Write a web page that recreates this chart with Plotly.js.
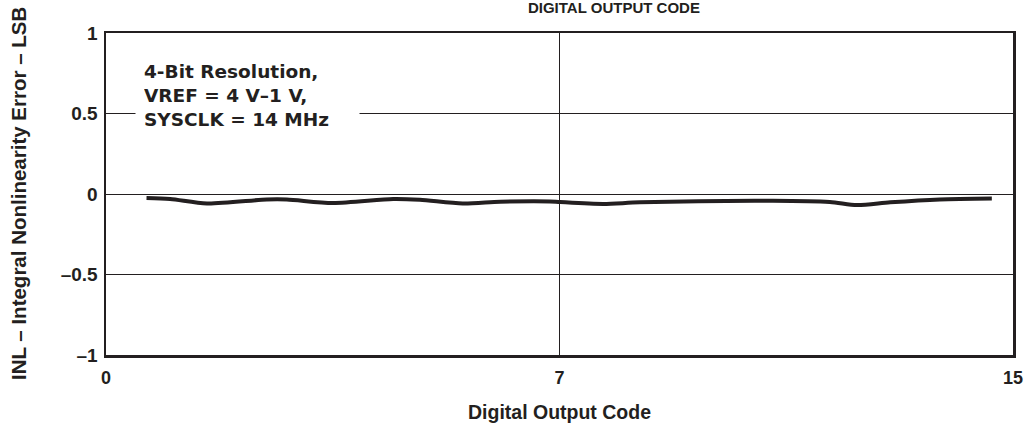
<!DOCTYPE html>
<html>
<head>
<meta charset="utf-8">
<script src="https://cdn.plot.ly/plotly-3.0.1.min.js"></script>
<style>html,body{margin:0;padding:0;background:#fff;}#chart{width:1030px;height:430px;}</style>
</head>
<body>
<div id="chart"></div>
<script>
const codes = [0.67, 1.06, 1.67, 2.66, 2.99, 3.75, 4.75, 5.19, 5.90, 6.52, 7.34, 7.51, 8.22, 8.83, 11.03, 11.97, 12.42, 12.97, 13.79, 14.65];
const inl = [-0.025, -0.031, -0.059, -0.034, -0.034, -0.056, -0.031, -0.036, -0.059, -0.048, -0.046, -0.050, -0.062, -0.052, -0.042, -0.050, -0.069, -0.052, -0.034, -0.028];
const xTickVals = [0, 7.5, 15];
const xTickText = ['0', '7', '15'];
const yTickVals = [-1, -0.5, 0, 0.5, 1];
const yTickText = ['\u20131', '\u20130.5', '0', '0.5', '1'];

const ink = '#231f20';
const font = 'Liberation Sans, Arial, Helvetica, sans-serif';

const trace = {
  x: codes, y: inl, type: 'scatter', mode: 'lines',
  line: {color: ink, width: 4, shape: 'spline', smoothing: 0.8},
  hoverinfo: 'skip'
};

const layout = {
  width: 1030, height: 430,
  margin: {l: 106, r: 17, t: 33, b: 75},
  paper_bgcolor: '#fff', plot_bgcolor: '#fff',
  showlegend: false,
  font: {family: font, color: ink},
  title: {
    text: 'DIGITAL OUTPUT CODE',
    font: {family: font, size: 15, weight: 'bold', color: ink},
    x: 0.56, xref: 'paper', xanchor: 'center',
    yref: 'container', y: 0.995, yanchor: 'top'
  },
  xaxis: {
    range: [0, 15], tickvals: xTickVals, ticktext: xTickText,
    showgrid: true, gridcolor: ink, gridwidth: 1,
    zeroline: false, showline: true, linecolor: ink, linewidth: 2.5, mirror: true,
    ticks: '', ticklabelstandoff: 5,
    tickfont: {family: font, size: 18, weight: 'bold', color: ink},
    title: {text: 'Digital Output Code', standoff: 19,
      font: {family: font, size: 19.5, weight: 'bold', color: ink}},
    fixedrange: true, automargin: false
  },
  yaxis: {
    range: [-1, 1], tickvals: yTickVals, ticktext: yTickText,
    showgrid: true, gridcolor: ink, gridwidth: 1,
    zeroline: false, showline: true, linecolor: ink, linewidth: 2.5, mirror: true,
    ticks: '', ticklabelstandoff: 2,
    tickfont: {family: font, size: 19, weight: 'bold', color: ink},
    fixedrange: true, automargin: false
  },
  annotations: [
    {
      text: 'INL \u2013 Integral Nonlinearity Error \u2013 LSB',
      xref: 'paper', yref: 'paper', x: -0.097, y: 0.5,
      xanchor: 'center', yanchor: 'middle', textangle: -90, showarrow: false,
      font: {family: font, size: 20.5, weight: 'bold', color: ink}
    },
    {
      text: '4-Bit Resolution,<br>VREF = 4 V\u20131 V,<br>SYSCLK = 14 MHz',
      xref: 'paper', yref: 'paper', x: 0.032, y: 0.807,
      xanchor: 'left', yanchor: 'middle', align: 'left', showarrow: false,
      width: 207, borderpad: 8, bgcolor: '#fff',
      font: {family: 'DejaVu Sans, sans-serif', size: 18.5, weight: 'bold', color: ink}
    }
  ]
};

Plotly.newPlot('chart', [trace], layout, {staticPlot: true, displayModeBar: false});
</script>
</body>
</html>
